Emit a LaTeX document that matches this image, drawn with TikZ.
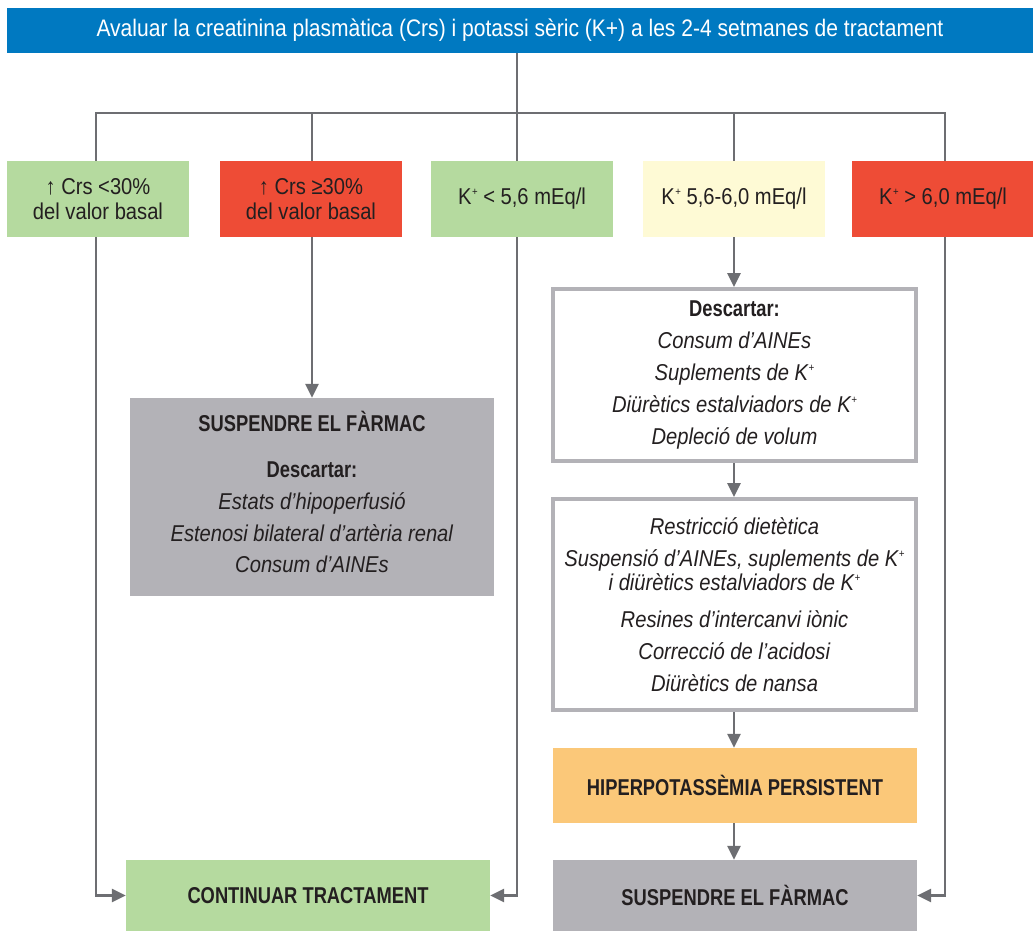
\documentclass[tikz,border=0pt]{standalone}
\usepackage{fontspec}
\setmainfont{Liberation Sans}[FakeStretch=0.88, BoldFeatures={FakeStretch=0.8}]
\usetikzlibrary{arrows.meta}
\definecolor{tblue}{HTML}{0079C1}
\definecolor{tgreen}{HTML}{B5DA9F}
\definecolor{tred}{HTML}{EE4C36}
\definecolor{tyellow}{HTML}{FEFAD5}
\definecolor{torange}{HTML}{FBC879}
\definecolor{tgray}{HTML}{B3B2B7}
\definecolor{lgray}{HTML}{6D6E72}
\definecolor{txt}{HTML}{231F20}
\newcommand{\Kp}{K\kern0.5bp\raisebox{0.4em}{\fontsize{11}{11}\selectfont +}}
\begin{document}
\begin{tikzpicture}[x=1bp,y=-1bp,
  ln/.style={draw=lgray, line width=2.6bp},
  arr/.style={ln, -{Triangle[length=14bp,width=13bp]}},
  bx/.style={inner sep=0pt, align=center, text=txt, font=\fontsize{23}{32}\selectfont},
  top/.style={bx, minimum width=182bp, minimum height=76bp, font=\fontsize{23}{25}\selectfont},
  wide/.style={bx, minimum width=364bp},
  framed/.style={bx, draw=tgray, line width=4bp, fill=white, minimum width=363bp},
  hd/.style={font=\fontsize{23}{32}\selectfont\bfseries}
]
\useasboundingbox (0,0) rectangle (1033,931);
% title
\node[fill=tblue, minimum width=1026bp, minimum height=45bp, inner sep=0pt, text=white,
  font=\fontsize{24}{26}\selectfont] (title) at (520,30.5)
  {Avaluar la creatinina plasmàtica (Crs) i potassi sèric (K+) a les 2-4 setmanes de tractament};
% first row
\node[top, fill=tgreen] (b1) at (98,199) {↑ Crs <30\%\\del valor basal};
\node[top, fill=tred] (b2) at (311,199) {↑ Crs ≥30\%\\del valor basal};
\node[top, fill=tgreen] (b3) at (522,199) {\Kp{} < 5,6 mEq/l};
\node[top, fill=tyellow] (b4) at (734,199) {\Kp{} 5,6-6,0 mEq/l};
\node[top, fill=tred] (b5) at (943,199) {\Kp{} > 6,0 mEq/l};
% left column
\node[wide, fill=tgray, minimum height=198bp] (s1) at (312,497)
  {\textbf{SUSPENDRE EL FÀRMAC}\\[14bp]\textbf{Descartar:}\\\textit{Estats d’hipoperfusió}\\
   \textit{Estenosi bilateral d’artèria renal}\\\textit{Consum d’AINEs}\\[-22bp]\mbox{}};
\node[wide, fill=tgreen, minimum height=71bp, hd] (cont) at (308,895.5) {CONTINUAR TRACTAMENT};
% right column
\node[framed, minimum height=172bp] (d1) at (734.5,375)
  {\textbf{Descartar:}\\\textit{Consum d’AINEs}\\\textit{Suplements de \Kp}\\
   \textit{Diürètics estalviadors de \Kp}\\\textit{Depleció de volum}};
\node[framed, minimum height=211bp] (d2) at (734.5,604.5)
  {\textit{Restricció dietètica}\\\textit{Suspensió d’AINEs, suplements de \Kp}\\[-8bp]
   \textit{i diürètics estalviadors de \Kp}\\[5bp]\textit{Resines d’intercanvi iònic}\\
   \textit{Correcció de l’acidosi}\\\textit{Diürètics de nansa}};
\node[wide, fill=torange, minimum height=75bp, hd] (hip) at (735,785.5) {HIPERPOTASSÈMIA PERSISTENT};
\node[wide, fill=tgray, minimum height=71bp, hd] (s2) at (735,895.5) {SUSPENDRE EL FÀRMAC};
% bus
\coordinate (j0) at (517,113);
\coordinate (x1) at (96,113);
\coordinate (x2) at (312,113);
\coordinate (x4) at (734,113);
\coordinate (x5) at (945,113);
\draw[ln] (title.south -| j0) -- (j0);
\draw[ln] (x1 |- b1.north) -- (x1) -- (x5) -- (x5 |- b5.north);
\draw[ln] (x2) -- (x2 |- b2.north);
\draw[ln] (j0) -- (j0 |- b3.north);
\draw[ln] (x4) -- (x4 |- b4.north);
% branches
\draw[arr] (x1 |- b1.south) |- (cont.west);
\draw[arr] (x2 |- b2.south) -- (x2 |- s1.north);
\draw[arr] (j0 |- b3.south) |- (cont.east);
\draw[arr] (x4 |- b4.south) -- (x4 |- d1.north);
\draw[arr] (x5 |- b5.south) |- (s2.east);
\draw[arr] (x4 |- d1.south) -- (x4 |- d2.north);
\draw[arr] (x4 |- d2.south) -- (x4 |- hip.north);
\draw[arr] (x4 |- hip.south) -- (x4 |- s2.north);
\end{tikzpicture}
\end{document}
